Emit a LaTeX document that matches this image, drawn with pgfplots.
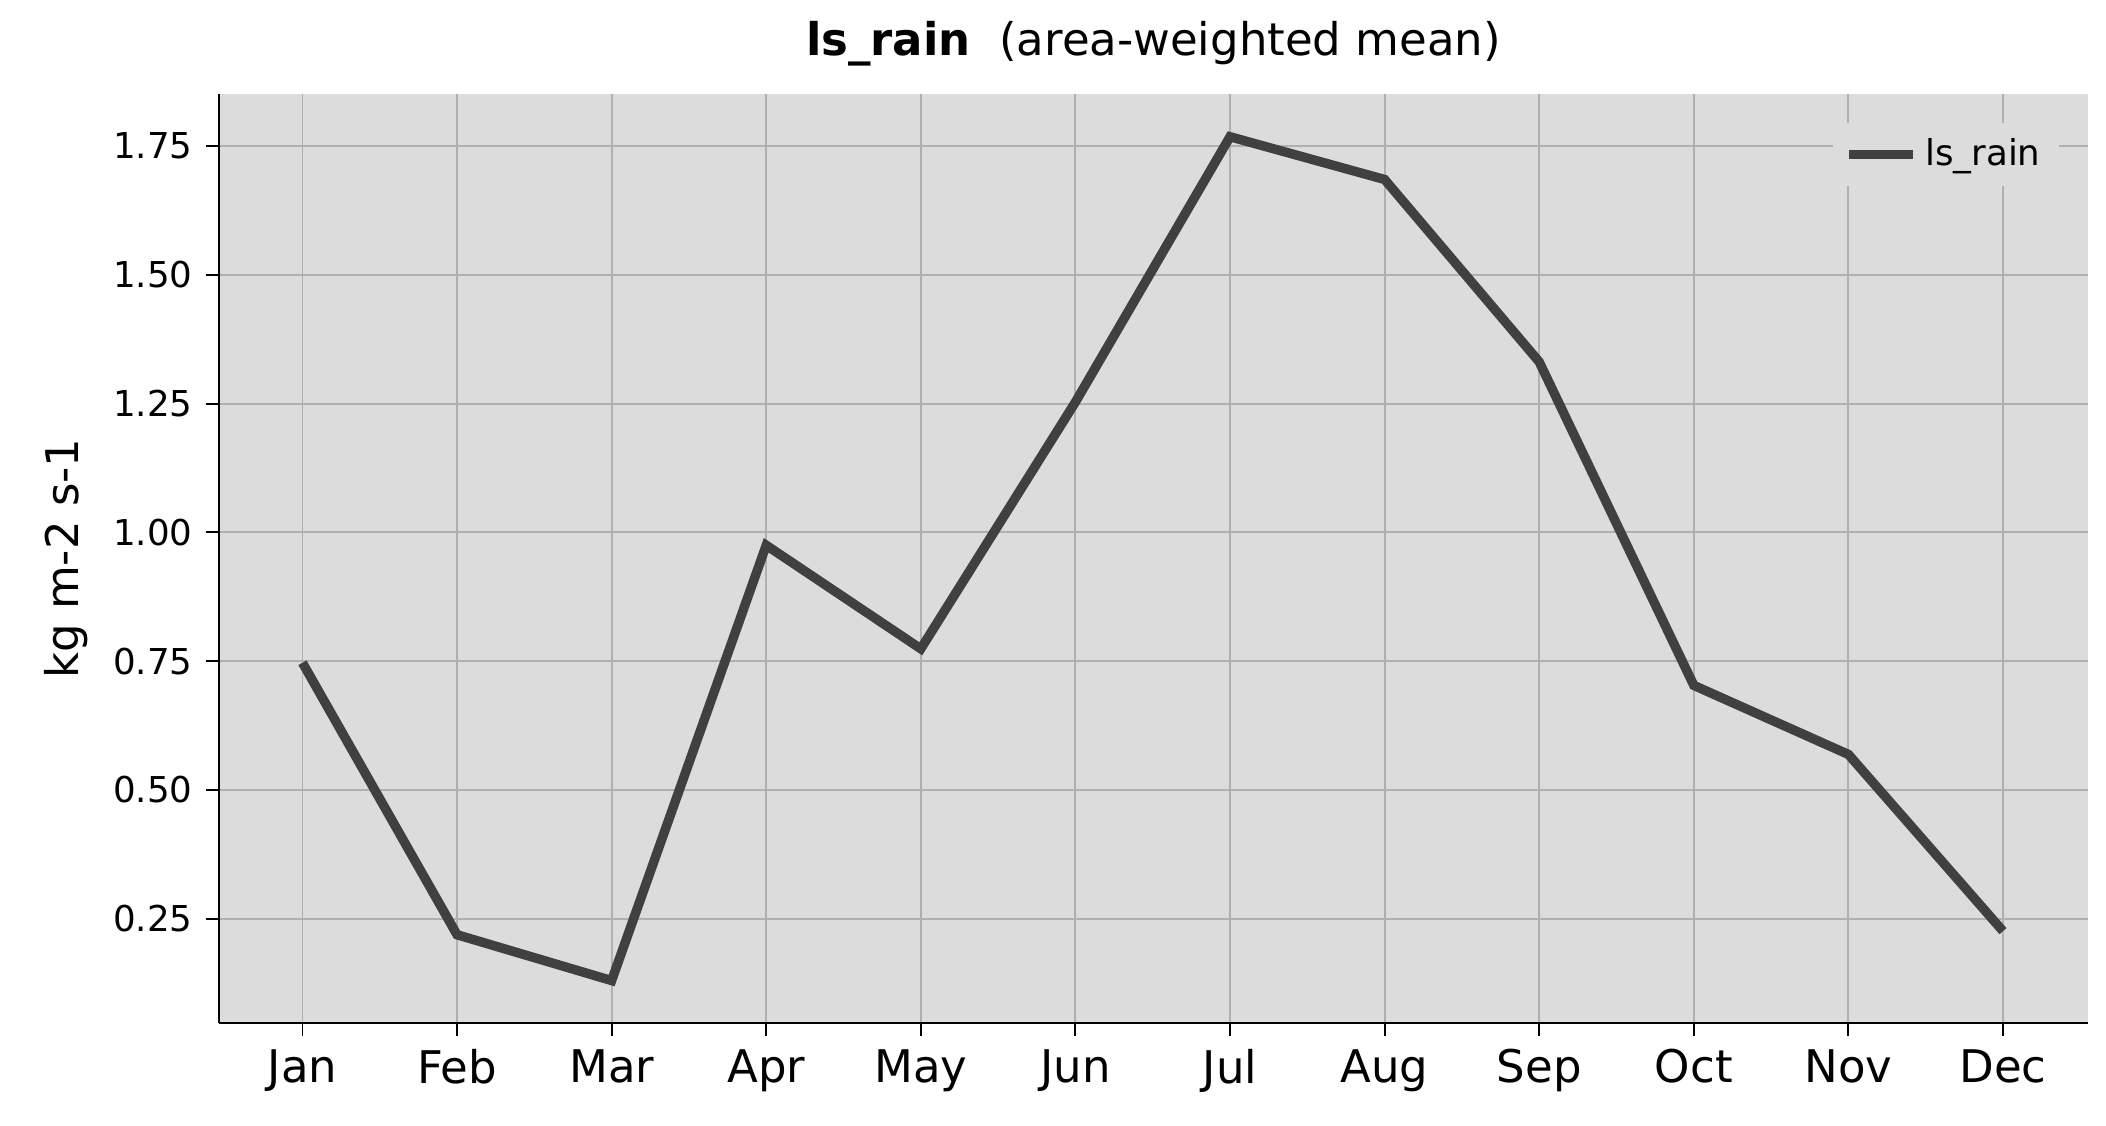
\documentclass[border=0pt]{standalone}
\usepackage{pgfplots}
\pgfplotsset{compat=1.18}
\usepackage{fontspec}
\setmainfont{DejaVu Sans}
\usetikzlibrary{calc}
\definecolor{bg}{HTML}{DCDCDC}
\definecolor{gr}{HTML}{B0B0B0}
\definecolor{ln}{HTML}{404040}
\begin{document}
\begin{tikzpicture}
\begin{axis}[name=ax, scale only axis, width=498.5pt, height=247.6pt,
  xmin=-0.54, xmax=11.55, ymin=0.048, ymax=1.85,
  axis background/.style={fill=bg},
  axis x line*=bottom, axis y line*=left,
  axis line style={line width=0.5pt},
  grid=major, grid style={gr, line width=0.5pt},
  tick align=outside, tick style={black, line width=0.5pt},
  major tick length=3.5pt,
  xtick={0,...,11},
  xticklabels={Jan,Feb,Mar,Apr,May,Jun,Jul,Aug,Sep,Oct,Nov,Dec},
  x tick label style={font=\fontsize{12}{14}\selectfont},
  ytick={0.25,0.5,0.75,1,1.25,1.5,1.75},
  y tick label style={font=\fontsize{9.5}{11}\selectfont},
  /pgf/number format/assume math mode=true,
  yticklabel style={/pgf/number format/.cd, fixed, fixed zerofill, precision=2},
  ylabel={kg m-2 s-1}, ylabel style={font=\fontsize{12}{14}\selectfont},
  title={\textbf{ls\_rain}\ \ (area-weighted mean)},
  title style={font=\fontsize{12}{14}\selectfont, yshift=-2pt},
  legend style={draw=none, fill=bg, font=\fontsize{9.5}{11}\selectfont, at={(0.985,0.97)}, anchor=north east},
  legend cell align=left,
]
\addplot[ln, line width=2.5pt] coordinates {
(0,0.747)(1,0.219)(2,0.130)(3,0.975)(4,0.774)(5,1.253)
(6,1.768)(7,1.685)(8,1.331)(9,0.703)(10,0.569)(11,0.226)};
\addlegendentry{ls\_rain}
\node[anchor=south west, font=\fontsize{9.5}{11}\selectfont, inner sep=1pt] at (rel axis cs:0,1) {1e$-$7};
\end{axis}
\pgfresetboundingbox
\path[use as bounding box] ($(ax.south west)+(-58.4pt,-27.5pt)$) rectangle ($(ax.north east)+(4.8pt,25.2pt)$);
\end{tikzpicture}
\end{document}
